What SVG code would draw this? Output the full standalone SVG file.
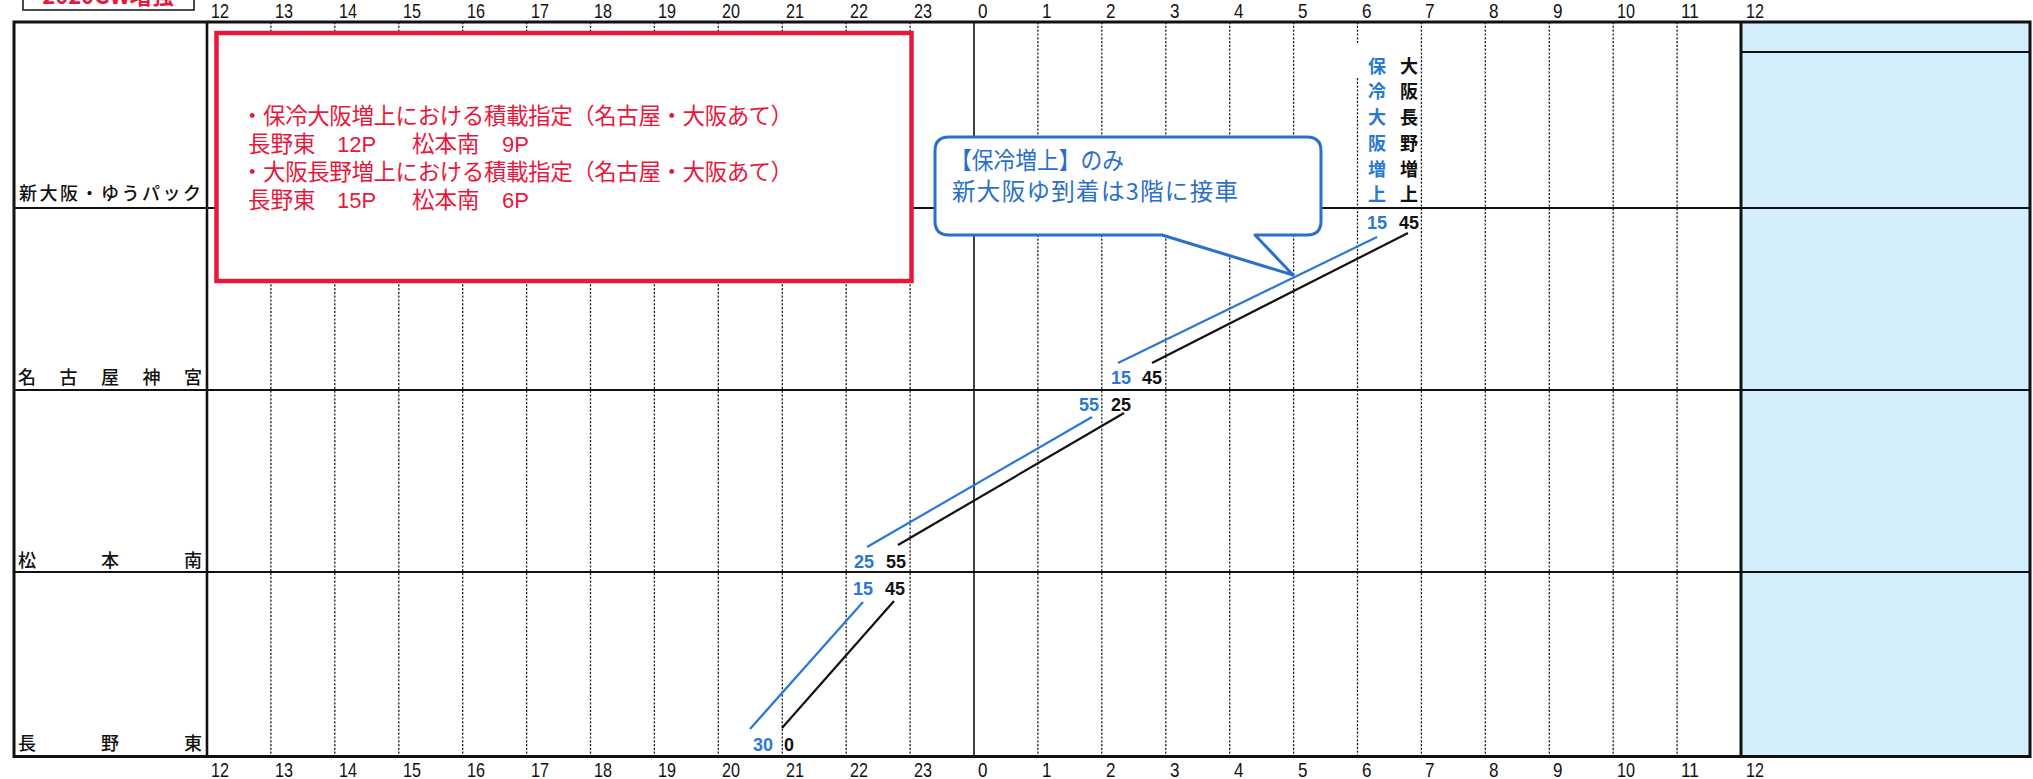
<svg xmlns="http://www.w3.org/2000/svg" width="2033" height="779" viewBox="0 0 2033 779">
<style>
.hr{font-family:"Liberation Sans",Arial,sans-serif;font-size:21px;fill:#111}
.rl{font-family:"Noto Sans CJK JP","Noto Sans",sans-serif;font-size:18px;font-weight:500;fill:#111}
.red{font-family:"Noto Sans CJK JP","Noto Sans",sans-serif;font-size:22.5px;fill:#e8183c}
.rednum{font-family:"Liberation Sans",Arial,"Noto Sans CJK JP",sans-serif;font-size:22px;fill:#e8183c}
.co{font-family:"Noto Sans CJK JP","Noto Sans",sans-serif;font-size:23.5px;fill:#2a6fc9}
.nb{font-family:"Liberation Sans",Arial,sans-serif;font-size:18px;font-weight:bold;fill:#2a78d6;text-anchor:middle}
.nk{font-family:"Liberation Sans",Arial,sans-serif;font-size:18px;font-weight:bold;fill:#111;text-anchor:middle}
.vb{font-family:"Noto Sans CJK JP",sans-serif;font-size:18px;font-weight:bold;fill:#2a78d6;text-anchor:middle}
.vk{font-family:"Noto Sans CJK JP",sans-serif;font-size:18px;font-weight:bold;fill:#111;text-anchor:middle}
.dash{stroke:#222;stroke-width:1.3;stroke-dasharray:2.2 1.6;fill:none}
.grid{stroke:#111;fill:none}
.bl{stroke:#2a78d6;stroke-width:2.2;fill:none}
.bk{stroke:#111;stroke-width:2.2;fill:none}
</style>

<rect x="0" y="0" width="2033" height="779" fill="#ffffff"/>

<!-- top-left title box (cut off) -->
<g id="title">
<rect x="23" y="-6" width="171" height="16" fill="#fff" stroke="#111" stroke-width="1.5"/>
<text x="108" y="4" text-anchor="middle" style="font-family:'Noto Sans CJK JP',sans-serif;font-size:22px;font-weight:bold;fill:#e8183c">2020GW増強</text>
</g>

<!-- blue side panel -->
<g id="side-panel">
<rect x="1741" y="22" width="289" height="735" fill="#d4eefb"/>
<line x1="1741" y1="52" x2="2030" y2="52" class="grid" stroke-width="2"/>
</g>

<!-- grid dashed hour lines -->
<g id="hour-lines">
<line x1="270.9" y1="22" x2="270.9" y2="757" class="dash"/>
<line x1="334.8" y1="22" x2="334.8" y2="757" class="dash"/>
<line x1="398.8" y1="22" x2="398.8" y2="757" class="dash"/>
<line x1="462.7" y1="22" x2="462.7" y2="757" class="dash"/>
<line x1="526.6" y1="22" x2="526.6" y2="757" class="dash"/>
<line x1="590.5" y1="22" x2="590.5" y2="757" class="dash"/>
<line x1="654.4" y1="22" x2="654.4" y2="757" class="dash"/>
<line x1="718.3" y1="22" x2="718.3" y2="757" class="dash"/>
<line x1="782.3" y1="22" x2="782.3" y2="757" class="dash"/>
<line x1="846.2" y1="22" x2="846.2" y2="757" class="dash"/>
<line x1="910.1" y1="22" x2="910.1" y2="757" class="dash"/>
<line x1="974" y1="22" x2="974" y2="757" class="grid" stroke-width="1.6"/>
<line x1="1037.9" y1="22" x2="1037.9" y2="757" class="dash"/>
<line x1="1101.8" y1="22" x2="1101.8" y2="757" class="dash"/>
<line x1="1165.8" y1="22" x2="1165.8" y2="757" class="dash"/>
<line x1="1229.7" y1="22" x2="1229.7" y2="757" class="dash"/>
<line x1="1293.6" y1="22" x2="1293.6" y2="757" class="dash"/>
<line x1="1357.5" y1="22" x2="1357.5" y2="43" class="dash"/>
<line x1="1357.5" y1="78" x2="1357.5" y2="757" class="dash"/>
<line x1="1421.4" y1="22" x2="1421.4" y2="757" class="dash"/>
<line x1="1485.3" y1="22" x2="1485.3" y2="757" class="dash"/>
<line x1="1549.3" y1="22" x2="1549.3" y2="757" class="dash"/>
<line x1="1613.2" y1="22" x2="1613.2" y2="757" class="dash"/>
<line x1="1677.1" y1="22" x2="1677.1" y2="757" class="dash"/>
</g>

<!-- table frame -->
<g id="frame">
<line x1="14" y1="208" x2="2030" y2="208" class="grid" stroke-width="2.2"/>
<line x1="14" y1="390" x2="2030" y2="390" class="grid" stroke-width="2.2"/>
<line x1="14" y1="572" x2="2030" y2="572" class="grid" stroke-width="2.2"/>
<line x1="207" y1="22" x2="207" y2="757" class="grid" stroke-width="2.6"/>
<line x1="1741" y1="22" x2="1741" y2="757" class="grid" stroke-width="3"/>
<rect x="14" y="22" width="2016" height="734.5" class="grid" stroke-width="3"/>
</g>

<!-- hour labels top -->
<g id="hours-top" class="hr">
<text x="211" y="18" textLength="18" lengthAdjust="spacingAndGlyphs">12</text>
<text x="275" y="18" textLength="18" lengthAdjust="spacingAndGlyphs">13</text>
<text x="339" y="18" textLength="18" lengthAdjust="spacingAndGlyphs">14</text>
<text x="403" y="18" textLength="18" lengthAdjust="spacingAndGlyphs">15</text>
<text x="467" y="18" textLength="18" lengthAdjust="spacingAndGlyphs">16</text>
<text x="531" y="18" textLength="18" lengthAdjust="spacingAndGlyphs">17</text>
<text x="594" y="18" textLength="18" lengthAdjust="spacingAndGlyphs">18</text>
<text x="658" y="18" textLength="18" lengthAdjust="spacingAndGlyphs">19</text>
<text x="722" y="18" textLength="18" lengthAdjust="spacingAndGlyphs">20</text>
<text x="786" y="18" textLength="18" lengthAdjust="spacingAndGlyphs">21</text>
<text x="850" y="18" textLength="18" lengthAdjust="spacingAndGlyphs">22</text>
<text x="914" y="18" textLength="18" lengthAdjust="spacingAndGlyphs">23</text>
<text x="978" y="18" textLength="9.5" lengthAdjust="spacingAndGlyphs">0</text>
<text x="1042" y="18" textLength="9.5" lengthAdjust="spacingAndGlyphs">1</text>
<text x="1106" y="18" textLength="9.5" lengthAdjust="spacingAndGlyphs">2</text>
<text x="1170" y="18" textLength="9.5" lengthAdjust="spacingAndGlyphs">3</text>
<text x="1234" y="18" textLength="9.5" lengthAdjust="spacingAndGlyphs">4</text>
<text x="1298" y="18" textLength="9.5" lengthAdjust="spacingAndGlyphs">5</text>
<text x="1362" y="18" textLength="9.5" lengthAdjust="spacingAndGlyphs">6</text>
<text x="1425" y="18" textLength="9.5" lengthAdjust="spacingAndGlyphs">7</text>
<text x="1489" y="18" textLength="9.5" lengthAdjust="spacingAndGlyphs">8</text>
<text x="1553" y="18" textLength="9.5" lengthAdjust="spacingAndGlyphs">9</text>
<text x="1617" y="18" textLength="18" lengthAdjust="spacingAndGlyphs">10</text>
<text x="1681" y="18" textLength="18" lengthAdjust="spacingAndGlyphs">11</text>
<text x="1746" y="18" textLength="18" lengthAdjust="spacingAndGlyphs">12</text>
</g>

<!-- hour labels bottom -->
<g id="hours-bottom" class="hr">
<text x="211" y="777" textLength="18" lengthAdjust="spacingAndGlyphs">12</text>
<text x="275" y="777" textLength="18" lengthAdjust="spacingAndGlyphs">13</text>
<text x="339" y="777" textLength="18" lengthAdjust="spacingAndGlyphs">14</text>
<text x="403" y="777" textLength="18" lengthAdjust="spacingAndGlyphs">15</text>
<text x="467" y="777" textLength="18" lengthAdjust="spacingAndGlyphs">16</text>
<text x="531" y="777" textLength="18" lengthAdjust="spacingAndGlyphs">17</text>
<text x="594" y="777" textLength="18" lengthAdjust="spacingAndGlyphs">18</text>
<text x="658" y="777" textLength="18" lengthAdjust="spacingAndGlyphs">19</text>
<text x="722" y="777" textLength="18" lengthAdjust="spacingAndGlyphs">20</text>
<text x="786" y="777" textLength="18" lengthAdjust="spacingAndGlyphs">21</text>
<text x="850" y="777" textLength="18" lengthAdjust="spacingAndGlyphs">22</text>
<text x="914" y="777" textLength="18" lengthAdjust="spacingAndGlyphs">23</text>
<text x="978" y="777" textLength="9.5" lengthAdjust="spacingAndGlyphs">0</text>
<text x="1042" y="777" textLength="9.5" lengthAdjust="spacingAndGlyphs">1</text>
<text x="1106" y="777" textLength="9.5" lengthAdjust="spacingAndGlyphs">2</text>
<text x="1170" y="777" textLength="9.5" lengthAdjust="spacingAndGlyphs">3</text>
<text x="1234" y="777" textLength="9.5" lengthAdjust="spacingAndGlyphs">4</text>
<text x="1298" y="777" textLength="9.5" lengthAdjust="spacingAndGlyphs">5</text>
<text x="1362" y="777" textLength="9.5" lengthAdjust="spacingAndGlyphs">6</text>
<text x="1425" y="777" textLength="9.5" lengthAdjust="spacingAndGlyphs">7</text>
<text x="1489" y="777" textLength="9.5" lengthAdjust="spacingAndGlyphs">8</text>
<text x="1553" y="777" textLength="9.5" lengthAdjust="spacingAndGlyphs">9</text>
<text x="1617" y="777" textLength="18" lengthAdjust="spacingAndGlyphs">10</text>
<text x="1681" y="777" textLength="18" lengthAdjust="spacingAndGlyphs">11</text>
<text x="1746" y="777" textLength="18" lengthAdjust="spacingAndGlyphs">12</text>
</g>

<!-- station row labels -->
<g id="station-shin-osaka"><text class="rl" x="19" y="200" textLength="182" lengthAdjust="spacing">新大阪・ゆうパック</text></g>
<g id="station-nagoya"><text class="rl" x="18" y="384" textLength="184" lengthAdjust="spacing">名古屋神宮</text></g>
<g id="station-matsumoto"><text class="rl" x="18" y="567" textLength="184" lengthAdjust="spacing">松本南</text></g>
<g id="station-nagano"><text class="rl" x="18" y="750" textLength="184" lengthAdjust="spacing">長野東</text></g>

<!-- red note box -->
<g id="note-box">
<rect x="216.5" y="33" width="695" height="248" fill="#fff" stroke="#e8183c" stroke-width="4.5"/>
<text class="red" x="241" y="124" textLength="552" lengthAdjust="spacing">・保冷大阪増上における積載指定（名古屋・大阪あて）</text>
<text class="red" y="152"><tspan x="248">長野東</tspan><tspan class="rednum" x="337">12P</tspan><tspan x="412">松本南</tspan><tspan class="rednum" x="502">9P</tspan></text>
<text class="red" x="241" y="180" textLength="552" lengthAdjust="spacing">・大阪長野増上における積載指定（名古屋・大阪あて）</text>
<text class="red" y="208"><tspan x="248">長野東</tspan><tspan class="rednum" x="337">15P</tspan><tspan x="412">松本南</tspan><tspan class="rednum" x="502">6P</tspan></text>
</g>

<!-- callout -->
<g id="callout">
<path d="M949,137 H1307 Q1321,137 1321,151 V221 Q1321,235 1307,235 H1255 L1293,275 L1162,235 H949 Q935,235 935,221 V151 Q935,137 949,137 Z" fill="#fff" stroke="#2a6fc9" stroke-width="3" stroke-linejoin="round"/>
<text class="co" x="950" y="169" textLength="174" lengthAdjust="spacingAndGlyphs">【保冷増上】のみ</text>
<text class="co" x="952" y="200" textLength="286" lengthAdjust="spacing">新大阪ゆ到着は3階に接車</text>
</g>

<!-- train names (vertical) -->
<g id="train-hoorei">
<text class="vb" x="1377" y="73">保</text>
<text class="vb" x="1377" y="98">冷</text>
<text class="vb" x="1377" y="124">大</text>
<text class="vb" x="1377" y="150">阪</text>
<text class="vb" x="1377" y="176">増</text>
<text class="vb" x="1377" y="201">上</text>
</g>
<g id="train-osaka-nagano">
<text class="vk" x="1409" y="73">大</text>
<text class="vk" x="1409" y="98">阪</text>
<text class="vk" x="1409" y="124">長</text>
<text class="vk" x="1409" y="150">野</text>
<text class="vk" x="1409" y="176">増</text>
<text class="vk" x="1409" y="201">上</text>
</g>

<!-- connectors (train paths) -->
<g id="connectors">
<line class="bl" x1="750" y1="729" x2="863" y2="602"/>
<line class="bl" x1="867" y1="547" x2="1092" y2="417"/>
<line class="bl" x1="1118" y1="363" x2="1377" y2="237"/>
<line class="bk" x1="782" y1="728" x2="894" y2="601"/>
<line class="bk" x1="898" y1="545" x2="1124" y2="413"/>
<line class="bk" x1="1152" y1="363" x2="1408" y2="233"/>
</g>

<!-- time labels -->
<g id="times">
<text class="nb" x="763" y="751">30</text>
<text class="nk" x="789" y="751">0</text>
<text class="nb" x="863" y="595">15</text>
<text class="nk" x="895" y="595">45</text>
<text class="nb" x="864" y="568">25</text>
<text class="nk" x="896" y="568">55</text>
<text class="nb" x="1089" y="411">55</text>
<text class="nk" x="1121" y="411">25</text>
<text class="nb" x="1121" y="384">15</text>
<text class="nk" x="1152" y="384">45</text>
<text class="nb" x="1377" y="229">15</text>
<text class="nk" x="1409" y="229">45</text>
</g>
</svg>
